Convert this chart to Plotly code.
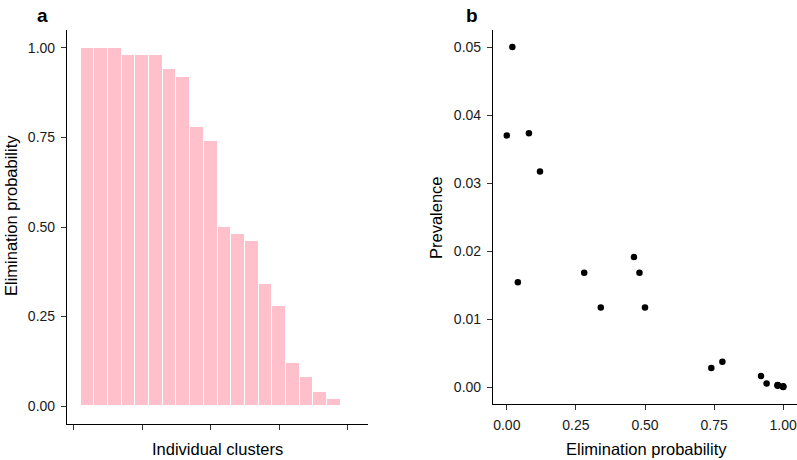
import plotly.graph_objects as go

# Panel a: elimination probability per cluster (sorted)
cluster_rank = list(range(1, 21))
elim_prob = [1.00, 1.00, 1.00, 0.98, 0.98, 0.98, 0.94, 0.92, 0.78, 0.74,
             0.50, 0.48, 0.46, 0.34, 0.28, 0.12, 0.08, 0.04, 0.02, 0.00]

# Panel b: prevalence vs elimination probability
scatter_elim = [0.00, 0.02, 0.04, 0.08, 0.12, 0.28, 0.34, 0.46, 0.48, 0.50,
                0.74, 0.78, 0.92, 0.94, 0.98, 0.98, 0.98, 1.00, 1.00, 1.00]
prevalence = [0.0370, 0.0500, 0.0154, 0.0373, 0.0317, 0.0168, 0.0117, 0.0191, 0.0168, 0.0117,
              0.0028, 0.0037, 0.0016, 0.0005, 0.0003, 0.0002, 0.00025, 0.0001, 0.00005, 0.0]

a_yticks = [0, 0.25, 0.5, 0.75, 1.0]
a_yticklabels = ["0.00", "0.25", "0.50", "0.75", "1.00"]
a_xticks = [0, 5, 10, 15, 20]
b_yticks = [0, 0.01, 0.02, 0.03, 0.04, 0.05]
b_yticklabels = ["0.00", "0.01", "0.02", "0.03", "0.04", "0.05"]
b_xticks = [0, 0.25, 0.5, 0.75, 1.0]
b_xticklabels = ["0.00", "0.25", "0.50", "0.75", "1.00"]

W, H = 797, 460
FONT = "Liberation Sans, Arial, sans-serif"


def px(x):
    return x / W


def py(y):
    return 1 - y / H


fig = go.Figure()
fig.add_trace(go.Bar(x=cluster_rank, y=elim_prob, width=1,
                     marker=dict(color="#FFC0CB", line=dict(color="white", width=1)),
                     xaxis="x", yaxis="y", showlegend=False))
fig.add_trace(go.Scatter(x=scatter_elim, y=prevalence, mode="markers",
                         marker=dict(color="black", size=6.5),
                         xaxis="x2", yaxis="y2", showlegend=False))

axis_common = dict(showline=True, linecolor="black", linewidth=1.2, ticks="outside",
                   ticklen=5, tickwidth=1.2, tickcolor="#333333", showgrid=False, zeroline=False,
                   ticklabeloverflow="allow",
                   tickfont=dict(family=FONT, size=14, color="#1a1a1a"))

fig.update_layout(
    width=W, height=H, margin=dict(l=0, r=0, t=0, b=0),
    plot_bgcolor="white", paper_bgcolor="white", bargap=0,
    xaxis=dict(domain=[px(67), px(368)], range=[-0.5, 21.5], tickvals=a_xticks,
               showticklabels=False, anchor="y", **axis_common),
    yaxis=dict(domain=[py(424), py(30)], range=[-0.05, 1.05], tickvals=a_yticks,
               ticktext=a_yticklabels, anchor="x", ticklabelstandoff=3, **axis_common),
    xaxis2=dict(domain=[px(493), 1.0], range=[-0.05, 1.05], tickvals=b_xticks,
                ticktext=b_xticklabels, anchor="y2", ticklabelstandoff=3, **axis_common),
    yaxis2=dict(domain=[py(404), py(30)], range=[-0.0025, 0.0525], tickvals=b_yticks,
                ticktext=b_yticklabels, anchor="x2", ticklabelstandoff=3, **axis_common),
)

ann = [
    dict(text="<b>a</b>", x=px(42), y=py(15), font=dict(size=19)),
    dict(text="<b>b</b>", x=px(472), y=py(15), font=dict(size=19)),
    dict(text="Elimination probability", x=px(11), y=py(216), textangle=-90, font=dict(size=16.5)),
    dict(text="Individual clusters", x=px(217), y=py(449), font=dict(size=16.5)),
    dict(text="Prevalence", x=px(436), y=py(217), textangle=-90, font=dict(size=16.5)),
    dict(text="Elimination probability", x=px(646), y=py(449), font=dict(size=16.5)),
]
for a in ann:
    a["font"]["family"] = FONT
    a["font"]["color"] = "black"
    fig.add_annotation(xref="paper", yref="paper", showarrow=False,
                       xanchor="center", yanchor="middle", **a)

fig.write_html("out.html", config={"displayModeBar": False},
               post_script="document.body.style.margin='0px';")
